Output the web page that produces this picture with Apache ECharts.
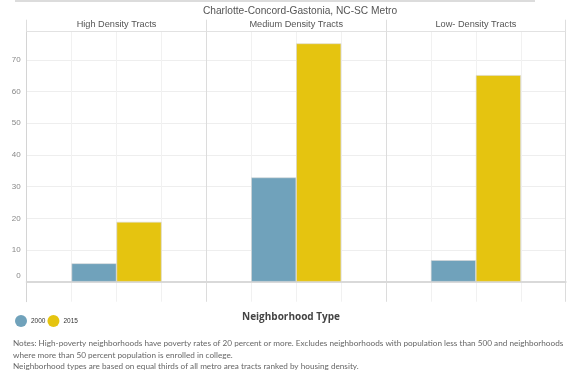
<!DOCTYPE html>
<html>
<head>
<meta charset="utf-8">
<script src="https://cdn.jsdelivr.net/npm/echarts@6/dist/echarts.min.js"></script>
<style>html,body{margin:0;padding:0;background:#fff}#c{width:576px;height:386px}</style>
</head>
<body>
<div id="c"></div>
<script>
const chartTitle = 'Charlotte-Concord-Gastonia, NC-SC Metro';
const categories = ['High Density Tracts', 'Medium Density Tracts', 'Low- Density Tracts'];
const seriesNames = ['2000', '2015'];
const values2000 = [5.8, 32.9, 6.8];
const values2015 = [18.9, 75.2, 65.2];
const yTickLabels = [0, 10, 20, 30, 40, 50, 60, 70];
const xAxisName = 'Neighborhood Type';
const notes = [
  'Notes: High-poverty neighborhoods have poverty rates of 20 percent or more. Excludes neighborhoods with population less than 500 and neighborhoods',
  'where more than 50 percent population is enrolled in college.',
  'Neighborhood types are based on equal thirds of all metro area tracts ranked by housing density.'
];

const subSlots = [];
categories.forEach(() => { for (let i = 0; i < 4; i++) subSlots.push(''); });

const chart = echarts.init(document.getElementById('c'), null, {renderer: 'canvas'});
const font = 'Liberation Sans, Arial, sans-serif';
chart.setOption({
  animation: false,
  textStyle: {fontFamily: font},
  graphic: [{type: 'rect', shape: {x: 15, y: 0, width: 520, height: 2}, style: {fill: '#dcdcdc'}}],
  title: [
    {text: chartTitle, left: 300, top: 6, textAlign: 'center', padding: 0,
     textStyle: {fontSize: 10.2, fontWeight: 'normal', color: '#555', fontFamily: font}},
    {text: xAxisName, left: 291, top: 312, textAlign: 'center', padding: 0,
     textStyle: {fontSize: 10, fontWeight: 'bold', color: '#444', fontFamily: 'Open Sans, sans-serif'}},
    {text: notes.join('\n'), left: 13, top: 338, padding: 0,
     textStyle: {fontSize: 8.2, lineHeight: 11.5, fontWeight: 'normal', color: '#666', fontFamily: 'Lato, sans-serif'}}
  ],
  legend: {
    data: seriesNames, left: 15, top: 315, padding: 0, icon: 'circle', itemWidth: 12, itemHeight: 12, itemGap: 2,
    itemStyle: {borderWidth: 0},
    textStyle: {fontSize: 6.5, color: '#333', padding: [0, 0, 0, -1]}
  },
  grid: {left: 26.7, right: 10.3, top: 31.7, bottom: 84.3, containLabel: false},
  xAxis: [
    {type: 'category', data: subSlots, position: 'bottom',
     axisLine: {show: true, onZero: true, lineStyle: {color: '#d9d9d9', width: 2}},
     axisTick: {show: false}, axisLabel: {show: false},
     splitLine: {show: true, interval: 0, lineStyle: {color: '#f1f1f1', width: 1}}},
    {type: 'category', data: categories, position: 'top',
     axisLine: {show: true, onZero: false, lineStyle: {color: '#e2e2e2', width: 1}},
     axisTick: {show: true, interval: 0, length: 12, lineStyle: {color: '#dedede'}},
     axisLabel: {show: true, interval: 0, margin: 3, fontSize: 9.2, color: '#555'},
     splitLine: {show: true, interval: 0, showMinLine: true, showMaxLine: true, lineStyle: {color: '#dcdcdc', width: 1}}}
  ],
  yAxis: {
    type: 'value', min: -6.3, max: 78.9, splitNumber: 8,
    axisLine: {show: true, lineStyle: {color: '#d4d4d4', width: 1}},
    axisTick: {show: false},
    axisLabel: {
      margin: 6, fontSize: 8, color: '#888', showMinLabel: false, showMaxLabel: false,
      formatter: v => {
        const r = Math.round(v);
        if (Math.abs(v - r) > 1e-6 || yTickLabels.indexOf(r) < 0) return '';
        return r === 0 ? '{z|0}' : String(r);
      },
      rich: {z: {fontSize: 8, color: '#888', padding: [0, 0, 11, 0]}}
    },
    splitLine: {show: true, showMinLine: false, lineStyle: {color: '#eeeeee', width: 1}}
  },
  series: [
    {name: seriesNames[0], type: 'bar', xAxisIndex: 1, data: values2000, barWidth: 45, barGap: '0%',
     itemStyle: {color: '#70a2bb', borderColor: '#d8d8d8', borderWidth: 0.6}},
    {name: seriesNames[1], type: 'bar', xAxisIndex: 1, data: values2015, barWidth: 45, barGap: '0%',
     itemStyle: {color: '#e5c410', borderColor: '#d8d8d8', borderWidth: 0.6}}
  ]
});
</script>
</body>
</html>
